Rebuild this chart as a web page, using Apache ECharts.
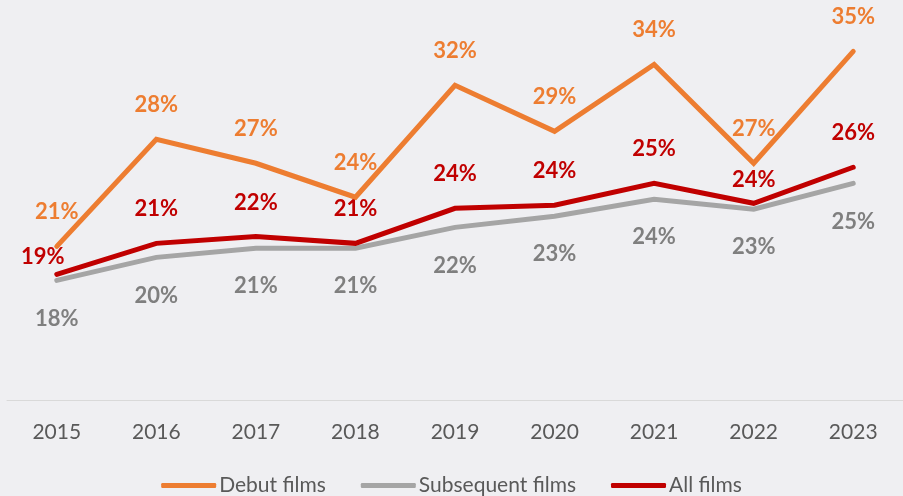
<!DOCTYPE html>
<html>
<head>
<meta charset="utf-8">
<script src="https://cdn.jsdelivr.net/npm/echarts@6/dist/echarts.min.js"></script>
<style>
  html, body { margin: 0; padding: 0; background: #efeff2; }
  #chart { width: 903px; height: 496px; }
</style>
</head>
<body>
<div id="chart"></div>
<script>
// years on the x axis
const years = ["2015", "2016", "2017", "2018", "2019", "2020", "2021", "2022", "2023"];

// share (%), labels show the rounded value
const debutFilms = [20.86, 28.42, 26.73, 24.33, 32.24, 28.99, 33.72, 26.73, 34.64];
const subsequentFilms = [18.45, 20.08, 20.72, 20.72, 22.2, 22.98, 24.18, 23.48, 25.31];
const allFilms = [18.88, 21.07, 21.55, 21.07, 23.55, 23.76, 25.31, 23.9, 26.45];

const font = "Lato";

function pct(p) {
  return Math.round(p.value) + "%";
}

function makeSeries(name, values, color, labelColor, pos, dist, z) {
  return {
    name: name,
    type: "line",
    data: values.slice(),
    showSymbol: true,
    symbol: "circle",
    symbolSize: 0.1,
    z: z,
    lineStyle: { width: 5, color: color, cap: "round", join: "miter" },
    itemStyle: { color: color },
    label: {
      show: true,
      position: pos,
      distance: dist,
      formatter: pct,
      color: labelColor,
      opacity: 1,
      fontFamily: font,
      fontWeight: "bold",
      fontSize: 22,
    },
  };
}

const series = [
  makeSeries("Debut films", debutFilms, "#ed7d31", "#ed7d31", "top", 23, 4),
  makeSeries("Subsequent films", subsequentFilms, "#a5a5a5", "#7f7f7f", "bottom", 27, 2),
  makeSeries("All films", allFilms, "#c00000", "#c00000", "top", 23, 3),
];

// a couple of labels sit off their usual spot
series[2].data[0] = { value: allFilms[0], label: { offset: [-14, 17] } };
series[2].data[7] = { value: allFilms[7], label: { offset: [0, 11] } };

const chart = echarts.init(document.getElementById("chart"));
chart.setOption({
  backgroundColor: "#efeff2",
  animation: false,
  textStyle: { fontFamily: font },
  grid: { left: 7, right: -4, top: 3.8, bottom: 96 },
  legend: {
    data: ["Debut films", "Subsequent films", "All films"],
    left: "center",
    top: 470,
    icon: "roundRect",
    itemWidth: 55,
    itemHeight: 5,
    itemGap: 35,
    textStyle: { fontFamily: font, fontSize: 21, color: "#595959", padding: [0, 0, 0, -2] },
  },
  xAxis: {
    type: "category",
    data: years,
    boundaryGap: true,
    axisLine: { lineStyle: { color: "#d9d9d9", width: 1 } },
    axisTick: { show: false },
    axisLabel: { fontFamily: font, fontSize: 21, color: "#595959", margin: 22 },
  },
  yAxis: {
    type: "value",
    min: 10,
    max: 38,
    show: false,
    splitLine: { show: false },
  },
  series: series,
});
</script>
</body>
</html>
